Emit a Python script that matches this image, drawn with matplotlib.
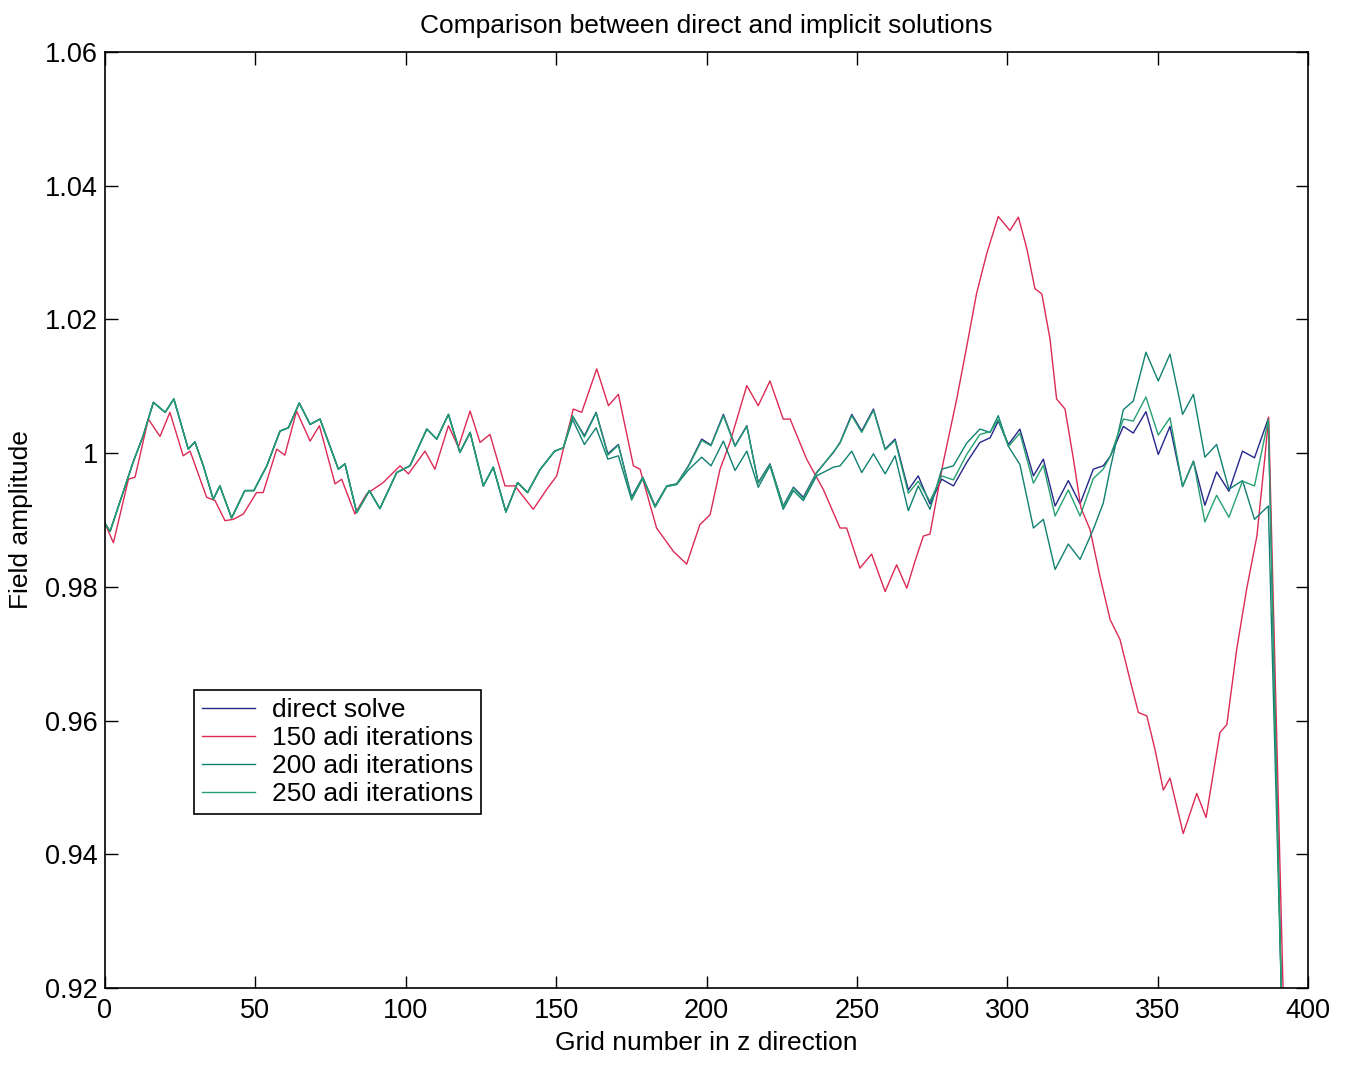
import matplotlib
matplotlib.use("Agg")
import matplotlib.pyplot as plt

plt.rcParams['font.family'] = ['Liberation Sans', 'DejaVu Sans']

# grid positions shared by the three close solutions
x_grid = [0, 1.7, 9.4, 12.7, 16.1, 20, 22.9, 27.7, 29.9, 32.7, 36, 38.2, 42.1, 46.5, 49.5,
          53.8, 58.2, 61, 64.6, 68.2, 71.5, 77.6, 79.8, 83.7, 87.9, 91.4, 97, 101.4, 107,
          110.3, 114.2, 118, 121.4, 125.8, 129.1, 133.3, 137.2, 140.5, 144.6, 149.5, 152.4,
          155.5, 159.4, 163.3, 167.2, 170.7, 175.1, 178.8, 182.9, 186.8, 190.1, 194, 198.4,
          201.5, 205.6, 209.5, 213.4, 217.2, 221.1, 225.5, 228.9, 232.2, 236.6, 242.2, 244.4,
          248.3, 251.6, 255.5, 259.4, 262.7, 267.1, 270.4, 274.3, 278.2, 282.1, 286.5, 290.9,
          294.3, 297, 300.4, 304.2, 308.7, 312, 315.9, 320.3, 324.2, 328.6, 331.9, 334.2,
          338.6, 341.9, 346.1, 350.2, 354.1, 358.3, 361.9, 365.7, 369.6, 373.7, 378.2, 382.2,
          386.8, 391.2]

direct = [0.9895, 0.9883, 0.9987, 1.0026, 1.0076, 1.0061, 1.0081, 1.0006, 1.0017, 0.9981,
          0.9931, 0.9951, 0.9903, 0.9944, 0.9944, 0.9981, 1.0033, 1.0038, 1.0075, 1.0043,
          1.0051, 0.9976, 0.9984, 0.9911, 0.9944, 0.9917, 0.9971, 0.9981, 1.0036, 1.0021,
          1.0058, 1.0001, 1.0031, 0.9951, 0.9979, 0.9912, 0.9956, 0.9941, 0.9975, 1.0003,
          1.0008, 1.0055, 1.0026, 1.0061, 0.9999, 1.0013, 0.9934, 0.9964, 0.9921, 0.9951,
          0.9954, 0.9981, 1.0021, 1.0012, 1.0058, 1.0011, 1.0041, 0.9956, 0.9984, 0.9921,
          0.9949, 0.9934, 0.9971, 1.0001, 1.0016, 1.0058, 1.0033, 1.0066, 1.0006, 1.0021,
          0.9945, 0.9966, 0.9924, 0.9961, 0.9951, 0.9986, 1.0016, 1.0023, 1.0048, 1.0013,
          1.0036, 0.9966, 0.9991, 0.9921, 0.9959, 0.9924, 0.9976, 0.9981, 0.9995, 1.0040,
          1.0030, 1.0062, 0.9998, 1.0040, 0.9950, 0.9988, 0.9922, 0.9972, 0.9943, 1.0003,
          0.9993, 1.0052, 0.918]

adi250 = [0.9895, 0.9883, 0.9987, 1.0026, 1.0076, 1.0061, 1.0081, 1.0006, 1.0017, 0.9981,
          0.9931, 0.9951, 0.9903, 0.9944, 0.9944, 0.9981, 1.0033, 1.0038, 1.0075, 1.0043,
          1.0051, 0.9976, 0.9984, 0.9911, 0.9944, 0.9917, 0.9971, 0.9981, 1.0036, 1.0021,
          1.0058, 1.0001, 1.0031, 0.9951, 0.9979, 0.9912, 0.9956, 0.9941, 0.9975, 1.0003,
          1.0008, 1.0056, 1.0024, 1.0060, 0.9997, 1.0012, 0.9932, 0.9964, 0.9920, 0.9951,
          0.9954, 0.9980, 1.0019, 1.0011, 1.0056, 1.0010, 1.0040, 0.9955, 0.9983, 0.9920,
          0.9948, 0.9932, 0.9970, 1.0002, 1.0015, 1.0056, 1.0031, 1.0064, 1.0005, 1.0019,
          0.9940, 0.9958, 0.9928, 0.9966, 0.9960, 0.9998, 1.0028, 1.0032, 1.0050, 1.0010,
          1.0030, 0.9955, 0.9982, 0.9906, 0.9945, 0.9906, 0.9962, 0.9976, 0.9995, 1.0051,
          1.0048, 1.0084, 1.0027, 1.0053, 0.9950, 0.9988, 0.9897, 0.9937, 0.9904, 0.9958,
          0.9951, 1.0050, 0.918]

adi200 = [0.9895, 0.9883, 0.9987, 1.0026, 1.0076, 1.0061, 1.0081, 1.0006, 1.0017, 0.9981,
          0.9931, 0.9951, 0.9903, 0.9944, 0.9944, 0.9981, 1.0033, 1.0038, 1.0075, 1.0043,
          1.0051, 0.9976, 0.9984, 0.9911, 0.9944, 0.9917, 0.9971, 0.9981, 1.0036, 1.0021,
          1.0058, 1.0001, 1.0031, 0.9951, 0.9979, 0.9912, 0.9956, 0.9941, 0.9975, 1.0003,
          1.0008, 1.0050, 1.0013, 1.0038, 0.9991, 0.9996, 0.9930, 0.9962, 0.9919, 0.9950,
          0.9953, 0.9975, 0.9994, 0.9981, 1.0018, 0.9974, 1.0003, 0.9949, 0.9981, 0.9916,
          0.9944, 0.9929, 0.9966, 0.9979, 0.9981, 1.0003, 0.9971, 0.9999, 0.9969, 0.9996,
          0.9914, 0.9951, 0.9916, 0.9976, 0.9981, 1.0015, 1.0036, 1.0031, 1.0056, 1.0010,
          0.9983, 0.9888, 0.9901, 0.9826, 0.9864, 0.9841, 0.9886, 0.9925, 0.9976, 1.0065,
          1.0078, 1.0151, 1.0108, 1.0148, 1.0058, 1.0088, 0.9994, 1.0013, 0.9946, 0.9959,
          0.9901, 0.9921, 0.918]

x_150 = [0, 2.8, 7.8, 10, 14.4, 18.3, 21.6, 26, 28.3, 33.8, 36.6, 39.9, 42.7, 46, 50.4, 52.6,
         57.1, 59.8, 63.7, 68.2, 71.3, 76.5, 78.7, 83.1, 87, 92.5, 98.1, 100.9, 106.4, 109.7,
         114.2, 117.5, 121.4, 124.7, 128, 133, 136.3, 142.4, 146.9, 150.2, 155.7, 158.5,
         163.5, 167.4, 170.7, 175.7, 177.9, 183.4, 189, 193.4, 197.8, 201.2, 204.5, 207.8,
         213.4, 217.2, 221.1, 225.5, 227.8, 233.3, 238.8, 244.4, 246.6, 251, 254.9, 259.4,
         263.2, 266.6, 269.3, 272.1, 274.3, 278.7, 283.2, 286.5, 289.8, 293.2, 297, 300.9,
         303.7, 306.5, 309.2, 311.5, 314.2, 316.4, 319.2, 322, 324.5, 327.5, 330.8, 334.2,
         337.5, 340.8, 343.6, 346.4, 349.1, 351.9, 354.1, 358.5, 363, 366.1, 370.7, 373,
         376.3, 379.6, 383, 385.7, 386.9, 391.8]
adi150 = [0.9895, 0.9866, 0.9961, 0.9964, 1.0051, 1.0025, 1.0061, 0.9996, 1.0003, 0.9934,
          0.9929, 0.9899, 0.9901, 0.9909, 0.9941, 0.9941, 1.0006, 0.9997, 1.0063, 1.0018,
          1.0041, 0.9954, 0.9961, 0.9909, 0.9939, 0.9956, 0.9981, 0.9969, 1.0003, 0.9976,
          1.0041, 1.0009, 1.0063, 1.0016, 1.0028, 0.9951, 0.9951, 0.9916, 0.9946, 0.9966,
          1.0066, 1.0061, 1.0126, 1.0071, 1.0088, 0.9981, 0.9976, 0.9888, 0.9853, 0.9834,
          0.9893, 0.9908, 0.9976, 1.0016, 1.0101, 1.0071, 1.0108, 1.0051, 1.0051, 0.9991,
          0.9946, 0.9888, 0.9888, 0.9828, 0.9849, 0.9793, 0.9833, 0.9798, 0.9838, 0.9876,
          0.9879, 0.9986, 1.0081, 1.0159, 1.0239, 1.0299, 1.0354, 1.0333, 1.0353, 1.0306,
          1.0246, 1.0238, 1.0171, 1.0081, 1.0066, 0.9991, 0.9918, 0.9886, 0.9816, 0.9751,
          0.9721, 0.9661, 0.9612, 0.9607, 0.9557, 0.9496, 0.9514, 0.9431, 0.9491, 0.9455,
          0.9582, 0.9594, 0.9707, 0.9797, 0.9876, 0.9996, 1.0054, 0.918]

x_ticks = [0, 50, 100, 150, 200, 250, 300, 350, 400]
y_ticks = [0.92, 0.94, 0.96, 0.98, 1.00, 1.02, 1.04, 1.06]
y_labels = ['0.92', '0.94', '0.96', '0.98', '1', '1.02', '1.04', '1.06']

fig = plt.figure(figsize=(13.51, 10.66), dpi=100)
ax = fig.add_axes([0.0777, 0.0732, 0.8905, 0.878])

ax.plot(x_grid, direct, color='#25288a', lw=1.0, label='direct solve')
ax.plot(x_150, adi150, color='#dc2a55', lw=1.0, label='150 adi iterations')
ax.plot(x_grid, adi200, color='#108070', lw=1.0, label='200 adi iterations')
ax.plot(x_grid, adi250, color='#25a070', lw=1.0, label='250 adi iterations')

ax.set_xlim(0, 400)
ax.set_ylim(0.92, 1.06)
ax.set_xticks(x_ticks)
ax.set_yticks(y_ticks)
ax.set_yticklabels(y_labels)
ax.tick_params(direction='in', top=True, right=True, length=9, width=1,
               labelsize=19.5, pad=7)
ax.tick_params(axis='y', pad=5)
for s in ax.spines.values():
    s.set_linewidth(1.2)

ax.set_title('Comparison between direct and implicit solutions', fontsize=19, pad=14)
ax.set_xlabel('Grid number in z direction', fontsize=19, labelpad=5)
ax.set_ylabel('Field amplitude', fontsize=19, labelpad=9)

leg = ax.legend(loc='upper left', bbox_to_anchor=(0.074, 0.318), fontsize=19,
                frameon=True, fancybox=False, framealpha=1, edgecolor='black',
                handlelength=2.0, borderpad=0.3, labelspacing=0.15, handletextpad=0.65,
                borderaxespad=0)
leg.get_frame().set_linewidth(1.2)

fig.savefig('out.png', dpi=100)
